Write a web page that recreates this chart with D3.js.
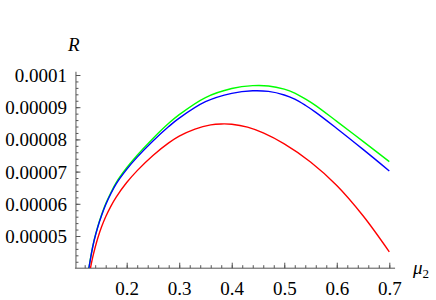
<!DOCTYPE html>
<html>
<head>
<meta charset="utf-8">
<script src="https://cdn.jsdelivr.net/npm/d3@7"></script>
<style>
  body { margin: 0; background: #fff; }
  svg text { font-family: "Liberation Serif", "DejaVu Serif", "Noto Serif", "Times New Roman", Times, serif; }
</style>
</head>
<body>
<div class="chart_container"></div>
<script>
// mu2 sample positions and R values
var muBG = [0.128, 0.133, 0.138, 0.145, 0.152, 0.16, 0.17, 0.18, 0.2, 0.22, 0.25, 0.28, 0.3, 0.35, 0.4, 0.44, 0.47, 0.5, 0.52, 0.54, 0.56, 0.6, 0.65, 0.7];
var rBlue  = [400, 447, 486, 528, 563, 597, 632, 662, 707, 745, 795, 840, 866, 917, 943, 951, 949, 938, 925, 906, 884, 834, 769, 702].map(d => d * 1e-7);
var rGreen = [400, 448, 487, 530, 565, 600, 635, 666, 712, 751, 803, 850, 877, 930, 958, 967, 966, 956, 944, 926, 905, 856, 794, 731].map(d => d * 1e-7);

var muRed = [0.131, 0.135, 0.14, 0.145, 0.152, 0.16, 0.17, 0.18, 0.2, 0.22, 0.25, 0.28, 0.3, 0.33, 0.36, 0.38, 0.4, 0.43, 0.46, 0.5, 0.55, 0.6, 0.65, 0.7];
var rRed  = [400, 432, 465, 494, 528, 560, 593, 621, 666, 703, 750, 789, 810, 832, 845, 848, 847, 838, 820, 786, 730, 657, 563, 451].map(d => d * 1e-7);

var xMajor = [0.2, 0.3, 0.4, 0.5, 0.6, 0.7];
var yMajor = [5e-5, 6e-5, 7e-5, 8e-5, 9e-5, 1e-4];
var yLabels = ["0.00005", "0.00006", "0.00007", "0.00008", "0.00009", "0.0001"];

var xMinor = d3.range(12, 71, 2).map(d => d / 100);
var yMinor = d3.range(21, 51).map(d => d * 2e-6);

var axisColor = "#555";

var svg = d3.select(".chart_container").append("svg")
    .attr("width", 436)
    .attr("height", 300);

var x = d3.scaleLinear().domain([0.2, 0.7]).range([126.7, 389.3]);
var y = d3.scaleLinear().domain([5e-5, 1e-4]).range([236, 75]);

var xOrigin = 0.1034, yOrigin = 4e-5;

// y axis
var yAxis = svg.append("g")
    .attr("transform", "translate(" + x(xOrigin) + ",0)");
yAxis.append("g")
    .call(d3.axisLeft(y).tickValues(yMinor).tickSize(-2.5).tickFormat(""));
yAxis.append("g")
    .call(d3.axisLeft(y).tickValues(yMajor).tickSize(-4.5).tickPadding(9)
      .tickFormat((d, i) => yLabels[i]));
yAxis.selectAll("text").attr("dy", "0.34em");
yAxis.append("line")
    .attr("y1", y(1.01e-4)).attr("y2", y(yOrigin));

// x axis
var xAxis = svg.append("g")
    .attr("transform", "translate(0," + y(yOrigin) + ")");
xAxis.append("g")
    .call(d3.axisBottom(x).tickValues(xMinor).tickSize(-3).tickFormat(""));
xAxis.append("g")
    .call(d3.axisBottom(x).tickValues(xMajor).tickSize(-5.5).tickPadding(13)
      .tickFormat(d3.format(".1f")));
xAxis.append("line")
    .attr("x1", x(xOrigin) - 1).attr("x2", x(0.711));

svg.selectAll(".domain").remove();
svg.selectAll("g").attr("font-family", null);
svg.selectAll(".tick text")
    .attr("font-size", 19)
    .attr("fill", "#000");
svg.selectAll("line").attr("stroke", axisColor);

// axis titles
svg.append("text")
    .attr("x", 68).attr("y", 51)
    .attr("font-style", "italic")
    .attr("font-size", 19)
    .text("R");

var mu = svg.append("text")
    .attr("x", 413).attr("y", 274)
    .attr("font-size", 19);
mu.append("tspan").attr("font-style", "italic").text("μ");
mu.append("tspan").attr("dy", 4).attr("font-size", 13).text("2");

// curves
svg.append("clipPath").attr("id", "clip")
  .append("rect")
    .attr("x", x(xOrigin)).attr("y", 0)
    .attr("width", 400).attr("height", y(yOrigin));

var line = d3.line()
    .x(d => x(d[0]))
    .y(d => y(d[1]))
    .curve(d3.curveCatmullRom.alpha(0.5));

var series = [
  { mu: muBG, r: rGreen, color: "#00ff00" },
  { mu: muBG, r: rBlue, color: "#0000ff" },
  { mu: muRed, r: rRed, color: "#ff0000" }
];

svg.append("g")
    .attr("clip-path", "url(#clip)")
  .selectAll("path")
  .data(series)
  .enter().append("path")
    .attr("d", s => line(d3.zip(s.mu, s.r)))
    .attr("fill", "none")
    .attr("stroke", s => s.color)
    .attr("stroke-width", 1.4);
</script>
</body>
</html>
